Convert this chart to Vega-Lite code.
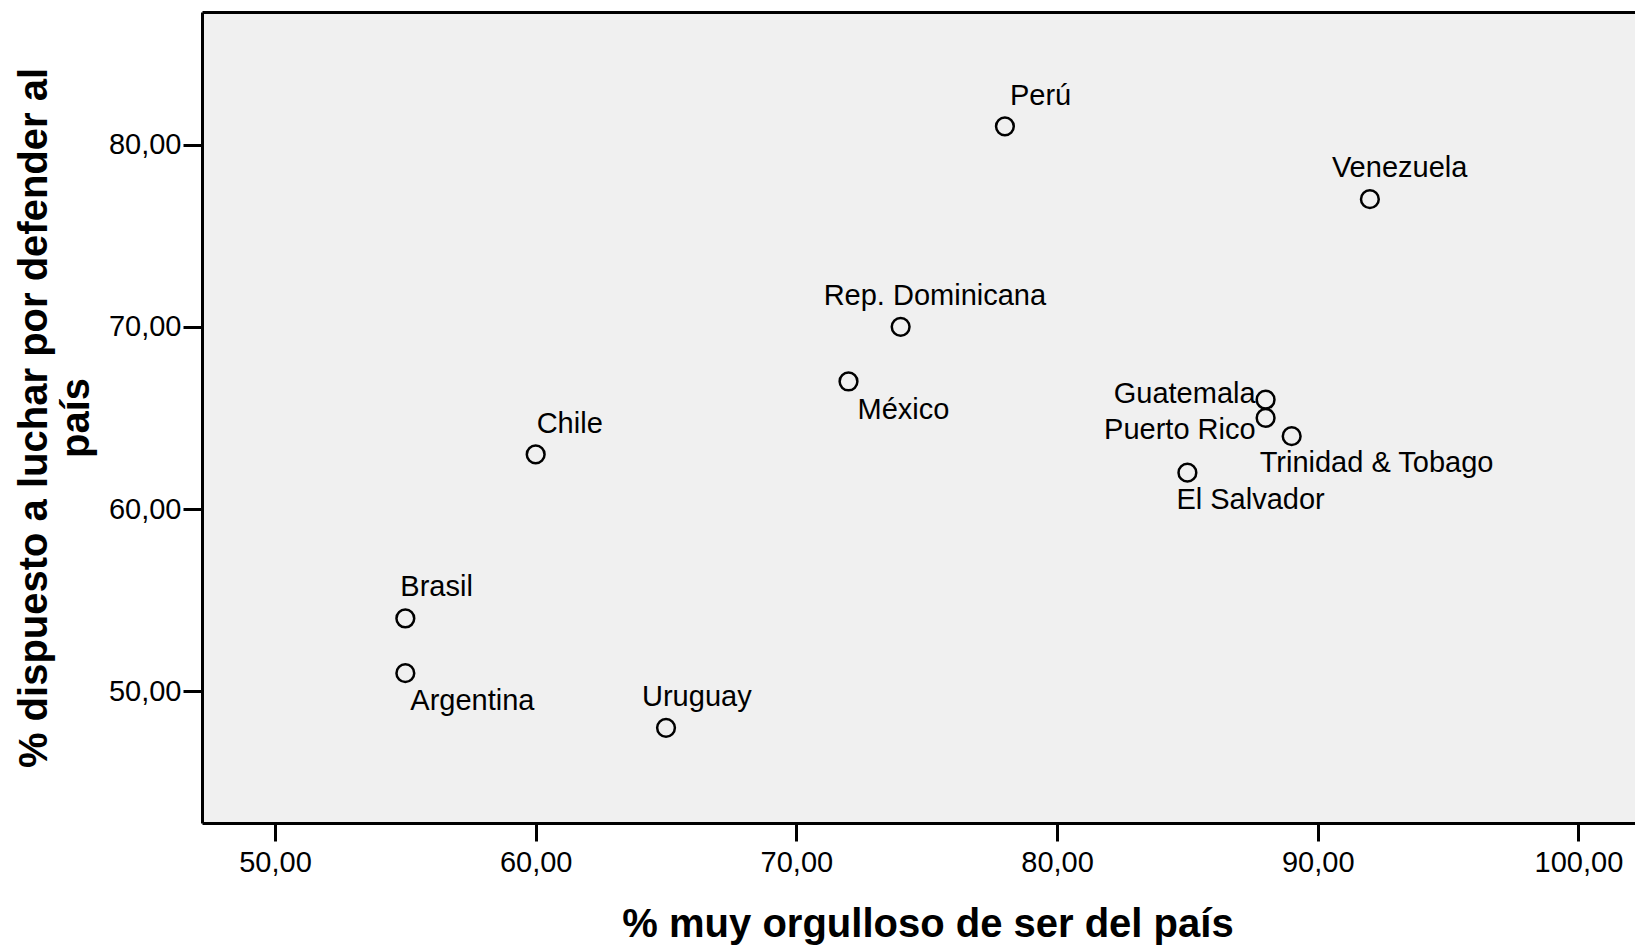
{
  "$schema": "https://vega.github.io/schema/vega-lite/v6.json",
  "width": 1433,
  "height": 811,
  "autosize": {"type": "none"},
  "padding": {"left": 202, "top": 12, "right": 0, "bottom": 123},
  "background": "white",
  "config": {
    "view": {"fill": "#f0f0f0", "stroke": null},
    "font": "Liberation Sans",
    "axis": {
      "grid": false,
      "domainColor": "black",
      "domainWidth": 3,
      "tickColor": "black",
      "tickWidth": 3,
      "labelColor": "black",
      "titleColor": "black",
      "labelFont": "Liberation Sans",
      "titleFont": "Liberation Sans",
      "labelFontSize": 29,
      "labelFlush": false,
      "labelOverlap": false
    },
    "text": {"font": "Liberation Sans", "fontSize": 29, "color": "black"}
  },
  "data": {
    "values": [
      {"pais": "Perú", "orgullo": 78, "luchar": 81},
      {"pais": "Venezuela", "orgullo": 92, "luchar": 77},
      {"pais": "Rep. Dominicana", "orgullo": 74, "luchar": 70},
      {"pais": "México", "orgullo": 72, "luchar": 67},
      {"pais": "Chile", "orgullo": 60, "luchar": 63},
      {"pais": "Brasil", "orgullo": 55, "luchar": 54},
      {"pais": "Argentina", "orgullo": 55, "luchar": 51},
      {"pais": "Uruguay", "orgullo": 65, "luchar": 48},
      {"pais": "Guatemala", "orgullo": 88, "luchar": 66},
      {"pais": "Puerto Rico", "orgullo": 88, "luchar": 65},
      {"pais": "Trinidad & Tobago", "orgullo": 89, "luchar": 64},
      {"pais": "El Salvador", "orgullo": 85, "luchar": 62}
    ]
  },
  "encoding": {
    "y": {
      "field": "luchar",
      "type": "quantitative",
      "scale": {"domain": [42.78, 87.27], "nice": false, "zero": false},
      "axis": {
        "values": [50, 60, 70, 80],
        "labelExpr": "replace(format(datum.value, '.2f'), '.', ',')",
        "title": ["% dispuesto a luchar por defender al", "país"],
        "titleFontSize": 40,
        "titleFontWeight": "bold",
        "titleAngle": -90,
        "titleX": -168,
        "titleY": 405.5,
        "titleAlign": "center",
        "titleBaseline": "middle",
        "titleLineHeight": 42,
        "tickSize": 19,
        "labelPadding": 2
      }
    }
  },
  "layer": [
    {
      "mark": {"type": "point", "shape": "circle", "filled": false, "stroke": "black", "strokeWidth": 2.5, "size": 315, "opacity": 1},
      "encoding": {
        "x": {
          "field": "orgullo",
          "type": "quantitative",
          "scale": {"domain": [47.2, 102.17], "nice": false, "zero": false},
          "axis": {
            "orient": "bottom",
            "values": [50, 60, 70, 80, 90, 100],
            "labelExpr": "replace(format(datum.value, '.2f'), '.', ',')",
            "title": "% muy orgulloso de ser del país",
            "titleFontSize": 40,
            "titleFontWeight": "bold",
            "titleX": 725.5,
            "titleY": 113,
            "titleAlign": "center",
            "titleBaseline": "alphabetic",
            "tickSize": 18,
            "labelPadding": 7
          }
        }
      }
    },
    {
      "transform": [{"filter": "datum.pais === 'Perú'"}],
      "mark": {"type": "text", "align": "left", "baseline": "alphabetic", "dx": 5, "dy": -21.5},
      "encoding": {
        "x": {"field": "orgullo", "type": "quantitative", "scale": {"domain": [47.2, 102.17], "nice": false, "zero": false},
          "axis": {"orient": "top", "domain": true, "ticks": false, "labels": false, "title": null, "grid": false}},
        "text": {"field": "pais"}
      }
    },
    {
      "transform": [{"filter": "datum.pais === 'Venezuela'"}],
      "mark": {"type": "text", "align": "left", "baseline": "alphabetic", "dx": -38, "dy": -22},
      "encoding": {"x": {"field": "orgullo", "type": "quantitative", "axis": null}, "text": {"field": "pais"}}
    },
    {
      "transform": [{"filter": "datum.pais === 'Rep. Dominicana'"}],
      "mark": {"type": "text", "align": "left", "baseline": "alphabetic", "dx": -77, "dy": -22},
      "encoding": {"x": {"field": "orgullo", "type": "quantitative", "axis": null}, "text": {"field": "pais"}}
    },
    {
      "transform": [{"filter": "datum.pais === 'México'"}],
      "mark": {"type": "text", "align": "left", "baseline": "alphabetic", "dx": 9, "dy": 37.5},
      "encoding": {"x": {"field": "orgullo", "type": "quantitative", "axis": null}, "text": {"field": "pais"}}
    },
    {
      "transform": [{"filter": "datum.pais === 'Chile'"}],
      "mark": {"type": "text", "align": "left", "baseline": "alphabetic", "dx": 1, "dy": -21.5},
      "encoding": {"x": {"field": "orgullo", "type": "quantitative", "axis": null}, "text": {"field": "pais"}}
    },
    {
      "transform": [{"filter": "datum.pais === 'Brasil'"}],
      "mark": {"type": "text", "align": "left", "baseline": "alphabetic", "dx": -5, "dy": -22},
      "encoding": {"x": {"field": "orgullo", "type": "quantitative", "axis": null}, "text": {"field": "pais"}}
    },
    {
      "transform": [{"filter": "datum.pais === 'Argentina'"}],
      "mark": {"type": "text", "align": "left", "baseline": "alphabetic", "dx": 5, "dy": 37},
      "encoding": {"x": {"field": "orgullo", "type": "quantitative", "axis": null}, "text": {"field": "pais"}}
    },
    {
      "transform": [{"filter": "datum.pais === 'Uruguay'"}],
      "mark": {"type": "text", "align": "left", "baseline": "alphabetic", "dx": -24, "dy": -21.6},
      "encoding": {"x": {"field": "orgullo", "type": "quantitative", "axis": null}, "text": {"field": "pais"}}
    },
    {
      "transform": [{"filter": "datum.pais === 'Guatemala'"}],
      "mark": {"type": "text", "align": "right", "baseline": "alphabetic", "dx": -10, "dy": 3.4},
      "encoding": {"x": {"field": "orgullo", "type": "quantitative", "axis": null}, "text": {"field": "pais"}}
    },
    {
      "transform": [{"filter": "datum.pais === 'Puerto Rico'"}],
      "mark": {"type": "text", "align": "right", "baseline": "alphabetic", "dx": -10, "dy": 21},
      "encoding": {"x": {"field": "orgullo", "type": "quantitative", "axis": null}, "text": {"field": "pais"}}
    },
    {
      "transform": [{"filter": "datum.pais === 'Trinidad & Tobago'"}],
      "mark": {"type": "text", "align": "left", "baseline": "alphabetic", "dx": -32, "dy": 35.7},
      "encoding": {"x": {"field": "orgullo", "type": "quantitative", "axis": null}, "text": {"field": "pais"}}
    },
    {
      "transform": [{"filter": "datum.pais === 'El Salvador'"}],
      "mark": {"type": "text", "align": "left", "baseline": "alphabetic", "dx": -11, "dy": 36},
      "encoding": {"x": {"field": "orgullo", "type": "quantitative", "axis": null}, "text": {"field": "pais"}}
    }
  ],
  "resolve": {"axis": {"x": "independent"}}
}
